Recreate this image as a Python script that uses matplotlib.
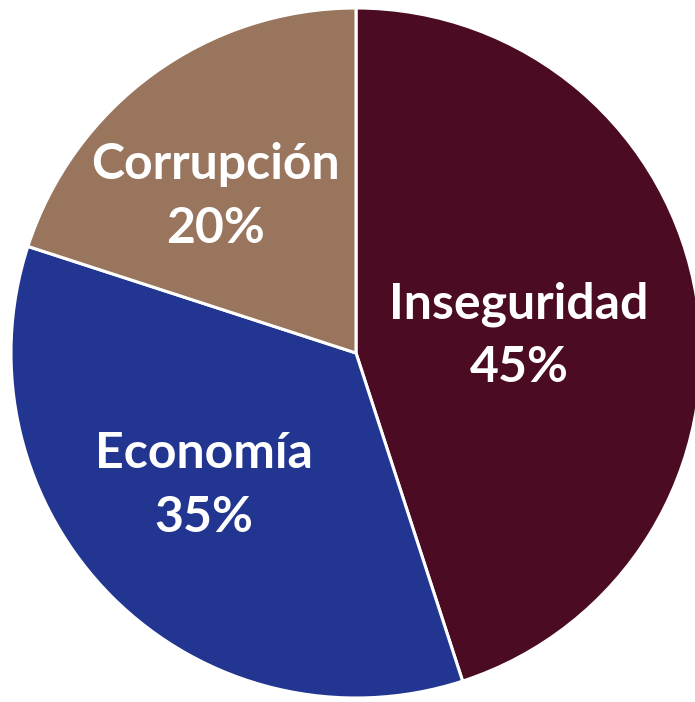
import numpy as np
import matplotlib.pyplot as plt

categories = ['Inseguridad', 'Economía', 'Corrupción']
values = [45, 35, 20]
colors = ['#4A0B23', '#223691', '#98755C']
label_dist = [0.475, 0.585, 0.61]
label_shift = [-3, -4, 6]  # degrees, nudges the label off the wedge middle

plt.rcParams['font.family'] = ['Lato', 'DejaVu Sans']

fig = plt.figure(figsize=(6.95, 7.02), dpi=100)
ax = fig.add_axes([0, 0, 1, 1])

wedges, _ = ax.pie(values, colors=colors, startangle=90, counterclock=False,
                   radius=1, wedgeprops=dict(edgecolor='white', linewidth=2.2))

for w, name, v, d, s in zip(wedges, categories, values, label_dist, label_shift):
    mid = np.deg2rad((w.theta1 + w.theta2) / 2 + s)
    ax.text(d * np.cos(mid), d * np.sin(mid), f'{name}\n{v}%',
            ha='center', va='center', color='white', fontsize=36,
            fontweight='bold', linespacing=1.5)

r = 345
ax.set_xlim(-356 / r, (695 - 356) / r)
ax.set_ylim(-(702 - 353) / r, 353 / r)
ax.set_aspect('equal')
ax.axis('off')

fig.savefig('out.png', dpi=100)
